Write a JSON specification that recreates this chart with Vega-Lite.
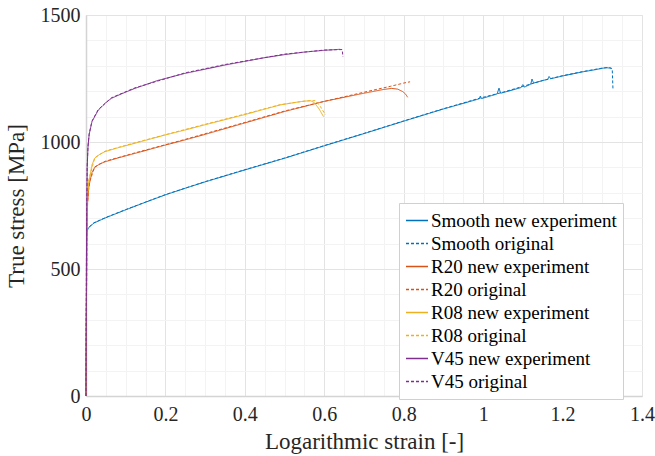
{
  "$schema": "https://vega.github.io/schema/vega-lite/v6.json",
  "width": 556,
  "height": 381,
  "autosize": {"type": "none"},
  "padding": {"left": 86, "top": 15, "right": 13, "bottom": 60},
  "background": "white",
  "config": {
    "view": {"stroke": "#e6e6e6", "strokeWidth": 1},
    "font": "Times New Roman, Liberation Serif, DejaVu Serif, serif"
  },
  "data": {
    "values": [
      {"s":"Smooth new experiment","x":0,"y":0},{"s":"Smooth new experiment","x":0.002,"y":640},{"s":"Smooth new experiment","x":0.005,"y":660},{"s":"Smooth new experiment","x":0.02,"y":681},{"s":"Smooth new experiment","x":0.05,"y":702},{"s":"Smooth new experiment","x":0.1,"y":733},{"s":"Smooth new experiment","x":0.15,"y":763},{"s":"Smooth new experiment","x":0.2,"y":792},{"s":"Smooth new experiment","x":0.25,"y":818},{"s":"Smooth new experiment","x":0.3,"y":843},{"s":"Smooth new experiment","x":0.4,"y":890},{"s":"Smooth new experiment","x":0.5,"y":936},{"s":"Smooth new experiment","x":0.6,"y":985},{"s":"Smooth new experiment","x":0.7,"y":1033},{"s":"Smooth new experiment","x":0.8,"y":1082},{"s":"Smooth new experiment","x":0.9,"y":1130},{"s":"Smooth new experiment","x":0.95,"y":1152},{"s":"Smooth new experiment","x":0.99,"y":1170},{"s":"Smooth new experiment","x":0.993,"y":1181},{"s":"Smooth new experiment","x":0.996,"y":1171},{"s":"Smooth new experiment","x":1.02,"y":1182},{"s":"Smooth new experiment","x":1.035,"y":1189},{"s":"Smooth new experiment","x":1.04,"y":1212},{"s":"Smooth new experiment","x":1.044,"y":1192},{"s":"Smooth new experiment","x":1.07,"y":1203},{"s":"Smooth new experiment","x":1.095,"y":1214},{"s":"Smooth new experiment","x":1.1,"y":1226},{"s":"Smooth new experiment","x":1.104,"y":1216},{"s":"Smooth new experiment","x":1.12,"y":1228},{"s":"Smooth new experiment","x":1.123,"y":1248},{"s":"Smooth new experiment","x":1.127,"y":1232},{"s":"Smooth new experiment","x":1.15,"y":1242},{"s":"Smooth new experiment","x":1.163,"y":1247},{"s":"Smooth new experiment","x":1.166,"y":1258},{"s":"Smooth new experiment","x":1.17,"y":1249},{"s":"Smooth new experiment","x":1.2,"y":1260},{"s":"Smooth new experiment","x":1.25,"y":1276},{"s":"Smooth new experiment","x":1.28,"y":1284},{"s":"Smooth new experiment","x":1.31,"y":1293},{"s":"Smooth new experiment","x":1.322,"y":1290},
      {"s":"Smooth original","x":0,"y":0},{"s":"Smooth original","x":0.002,"y":645},{"s":"Smooth original","x":0.005,"y":662},{"s":"Smooth original","x":0.02,"y":682},{"s":"Smooth original","x":0.05,"y":703},{"s":"Smooth original","x":0.1,"y":734},{"s":"Smooth original","x":0.2,"y":793},{"s":"Smooth original","x":0.3,"y":844},{"s":"Smooth original","x":0.4,"y":891},{"s":"Smooth original","x":0.5,"y":937},{"s":"Smooth original","x":0.6,"y":986},{"s":"Smooth original","x":0.7,"y":1034},{"s":"Smooth original","x":0.8,"y":1083},{"s":"Smooth original","x":0.9,"y":1131},{"s":"Smooth original","x":0.99,"y":1172},{"s":"Smooth original","x":1.05,"y":1196},{"s":"Smooth original","x":1.1,"y":1219},{"s":"Smooth original","x":1.15,"y":1242},{"s":"Smooth original","x":1.2,"y":1261},{"s":"Smooth original","x":1.25,"y":1277},{"s":"Smooth original","x":1.3,"y":1291},{"s":"Smooth original","x":1.318,"y":1293},{"s":"Smooth original","x":1.325,"y":1289},{"s":"Smooth original","x":1.327,"y":1205},
      {"s":"R20 new experiment","x":0,"y":0},{"s":"R20 new experiment","x":0.002,"y":600},{"s":"R20 new experiment","x":0.004,"y":760},{"s":"R20 new experiment","x":0.007,"y":820},{"s":"R20 new experiment","x":0.01,"y":846},{"s":"R20 new experiment","x":0.015,"y":880},{"s":"R20 new experiment","x":0.022,"y":900},{"s":"R20 new experiment","x":0.035,"y":914},{"s":"R20 new experiment","x":0.048,"y":922},{"s":"R20 new experiment","x":0.08,"y":937},{"s":"R20 new experiment","x":0.123,"y":955},{"s":"R20 new experiment","x":0.2,"y":988},{"s":"R20 new experiment","x":0.249,"y":1008},{"s":"R20 new experiment","x":0.3,"y":1030},{"s":"R20 new experiment","x":0.4,"y":1075},{"s":"R20 new experiment","x":0.5,"y":1120},{"s":"R20 new experiment","x":0.6,"y":1160},{"s":"R20 new experiment","x":0.7,"y":1192},{"s":"R20 new experiment","x":0.75,"y":1207},{"s":"R20 new experiment","x":0.77,"y":1211},{"s":"R20 new experiment","x":0.785,"y":1208},{"s":"R20 new experiment","x":0.798,"y":1198},{"s":"R20 new experiment","x":0.805,"y":1188},{"s":"R20 new experiment","x":0.81,"y":1176},
      {"s":"R20 original","x":0,"y":0},{"s":"R20 original","x":0.002,"y":610},{"s":"R20 original","x":0.004,"y":765},{"s":"R20 original","x":0.007,"y":822},{"s":"R20 original","x":0.01,"y":848},{"s":"R20 original","x":0.022,"y":902},{"s":"R20 original","x":0.048,"y":924},{"s":"R20 original","x":0.123,"y":957},{"s":"R20 original","x":0.249,"y":1010},{"s":"R20 original","x":0.4,"y":1077},{"s":"R20 original","x":0.5,"y":1122},{"s":"R20 original","x":0.6,"y":1160},{"s":"R20 original","x":0.7,"y":1196},{"s":"R20 original","x":0.766,"y":1219},{"s":"R20 original","x":0.8,"y":1232},{"s":"R20 original","x":0.816,"y":1237},
      {"s":"R08 new experiment","x":0,"y":0},{"s":"R08 new experiment","x":0.002,"y":650},{"s":"R08 new experiment","x":0.004,"y":790},{"s":"R08 new experiment","x":0.007,"y":845},{"s":"R08 new experiment","x":0.01,"y":866},{"s":"R08 new experiment","x":0.015,"y":910},{"s":"R08 new experiment","x":0.022,"y":936},{"s":"R08 new experiment","x":0.035,"y":952},{"s":"R08 new experiment","x":0.048,"y":962},{"s":"R08 new experiment","x":0.08,"y":977},{"s":"R08 new experiment","x":0.123,"y":995},{"s":"R08 new experiment","x":0.2,"y":1028},{"s":"R08 new experiment","x":0.249,"y":1047},{"s":"R08 new experiment","x":0.3,"y":1068},{"s":"R08 new experiment","x":0.4,"y":1108},{"s":"R08 new experiment","x":0.489,"y":1146},{"s":"R08 new experiment","x":0.54,"y":1159},{"s":"R08 new experiment","x":0.565,"y":1163},{"s":"R08 new experiment","x":0.575,"y":1155},{"s":"R08 new experiment","x":0.587,"y":1130},{"s":"R08 new experiment","x":0.598,"y":1100},
      {"s":"R08 original","x":0,"y":0},{"s":"R08 original","x":0.002,"y":655},{"s":"R08 original","x":0.004,"y":795},{"s":"R08 original","x":0.007,"y":848},{"s":"R08 original","x":0.01,"y":868},{"s":"R08 original","x":0.022,"y":938},{"s":"R08 original","x":0.048,"y":964},{"s":"R08 original","x":0.123,"y":997},{"s":"R08 original","x":0.249,"y":1049},{"s":"R08 original","x":0.4,"y":1110},{"s":"R08 original","x":0.489,"y":1147},{"s":"R08 original","x":0.55,"y":1161},{"s":"R08 original","x":0.577,"y":1163},{"s":"R08 original","x":0.59,"y":1140},{"s":"R08 original","x":0.603,"y":1107},
      {"s":"V45 new experiment","x":0,"y":0},{"s":"V45 new experiment","x":0.001,"y":500},{"s":"V45 new experiment","x":0.002,"y":750},{"s":"V45 new experiment","x":0.003,"y":900},{"s":"V45 new experiment","x":0.005,"y":980},{"s":"V45 new experiment","x":0.008,"y":1030},{"s":"V45 new experiment","x":0.015,"y":1080},{"s":"V45 new experiment","x":0.031,"y":1126},{"s":"V45 new experiment","x":0.05,"y":1155},{"s":"V45 new experiment","x":0.064,"y":1172},{"s":"V45 new experiment","x":0.09,"y":1190},{"s":"V45 new experiment","x":0.123,"y":1211},{"s":"V45 new experiment","x":0.18,"y":1242},{"s":"V45 new experiment","x":0.249,"y":1270},{"s":"V45 new experiment","x":0.35,"y":1303},{"s":"V45 new experiment","x":0.45,"y":1332},{"s":"V45 new experiment","x":0.5,"y":1344},{"s":"V45 new experiment","x":0.55,"y":1354},{"s":"V45 new experiment","x":0.6,"y":1361},{"s":"V45 new experiment","x":0.64,"y":1365},
      {"s":"V45 original","x":0,"y":0},{"s":"V45 original","x":0.001,"y":510},{"s":"V45 original","x":0.002,"y":760},{"s":"V45 original","x":0.003,"y":905},{"s":"V45 original","x":0.005,"y":983},{"s":"V45 original","x":0.008,"y":1032},{"s":"V45 original","x":0.015,"y":1082},{"s":"V45 original","x":0.031,"y":1128},{"s":"V45 original","x":0.064,"y":1174},{"s":"V45 original","x":0.123,"y":1213},{"s":"V45 original","x":0.249,"y":1272},{"s":"V45 original","x":0.35,"y":1305},{"s":"V45 original","x":0.5,"y":1346},{"s":"V45 original","x":0.6,"y":1362},{"s":"V45 original","x":0.645,"y":1364},{"s":"V45 original","x":0.647,"y":1335}
    ]
  },
  "mark": {"type": "line", "strokeWidth": 1, "interpolate": "linear"},
  "encoding": {
    "x": {
      "field": "x", "type": "quantitative",
      "scale": {"domain": [0, 1.4], "nice": false, "zero": false},
      "axis": {
        "title": "Logarithmic strain [-]",
        "values": [0,0.05,0.1,0.15,0.2,0.25,0.3,0.35,0.4,0.45,0.5,0.55,0.6,0.65,0.7,0.75,0.8,0.85,0.9,0.95,1,1.05,1.1,1.15,1.2,1.25,1.3,1.35,1.4],
        "labelExpr": "abs(datum.value*5 - round(datum.value*5)) < 0.001 ? format(datum.value, '~g') : ''",
        "grid": true,
        "gridColor": {"condition": {"test": "abs(datum.value*5 - round(datum.value*5)) < 0.001", "value": "#e3e3e3"}, "value": "#f3f3f3"},
        "ticks": false,
        "domainColor": "#d4d4d4",
        "domainWidth": 1.5,
        "labelFont": "Times New Roman, Liberation Serif, DejaVu Serif, serif",
        "labelFontSize": 20,
        "labelColor": "#262626",
        "labelPadding": 8,
        "labelFlush": false,
        "labelOverlap": false,
        "titleFont": "Times New Roman, Liberation Serif, DejaVu Serif, serif",
        "titleFontSize": 23,
        "titleFontWeight": "normal",
        "titleColor": "#262626",
        "titlePadding": 6
      }
    },
    "y": {
      "field": "y", "type": "quantitative",
      "scale": {"domain": [0, 1500], "nice": false},
      "axis": {
        "title": "True stress [MPa]",
        "values": [0,100,200,300,400,500,600,700,800,900,1000,1100,1200,1300,1400,1500],
        "labelExpr": "datum.value % 500 == 0 ? format(datum.value, 'd') : ''",
        "grid": true,
        "gridColor": {"condition": {"test": "datum.value % 500 == 0", "value": "#e3e3e3"}, "value": "#f3f3f3"},
        "ticks": false,
        "domainColor": "#d4d4d4",
        "domainWidth": 1.5,
        "labelFont": "Times New Roman, Liberation Serif, DejaVu Serif, serif",
        "labelFontSize": 20,
        "labelColor": "#262626",
        "labelPadding": 6,
        "labelFlush": false,
        "labelOverlap": false,
        "titleFont": "Times New Roman, Liberation Serif, DejaVu Serif, serif",
        "titleFontSize": 23,
        "titleFontWeight": "normal",
        "titleColor": "#262626",
        "titlePadding": 12
      }
    },
    "color": {
      "field": "s", "type": "nominal",
      "scale": {
        "domain": ["Smooth new experiment","Smooth original","R20 new experiment","R20 original","R08 new experiment","R08 original","V45 new experiment","V45 original"],
        "range": ["#0072BD","#0072BD","#D95319","#D95319","#EDB120","#EDB120","#7E2F8E","#7E2F8E"]
      },
      "legend": {
        "title": null,
        "orient": "none",
        "legendX": 313,
        "legendY": 188,
        "fillColor": "white",
        "strokeColor": "#d0d0d0",
        "padding": 6,
        "symbolType": "stroke",
        "symbolSize": 484,
        "symbolStrokeWidth": 1.5,
        "labelFont": "Times New Roman, Liberation Serif, DejaVu Serif, serif",
        "labelFontSize": 19,
        "labelColor": "#000000",
        "labelOffset": 2,
        "rowPadding": 0,
        "clipHeight": 23,
        "labelLimit": 300
      }
    },
    "strokeDash": {
      "field": "s", "type": "nominal",
      "scale": {
        "domain": ["Smooth new experiment","Smooth original","R20 new experiment","R20 original","R08 new experiment","R08 original","V45 new experiment","V45 original"],
        "range": [[1,0],[3,2],[1,0],[3,2],[1,0],[3,2],[1,0],[3,2]]
      }
    }
  }
}
